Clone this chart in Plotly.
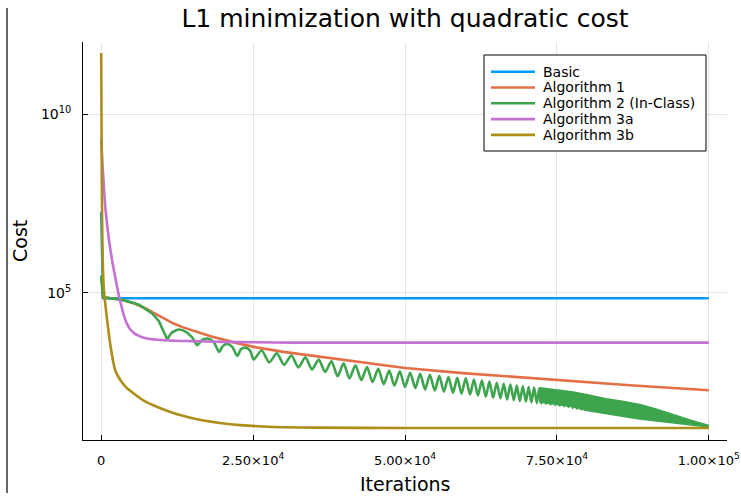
import plotly.graph_objects as go

# ---------------- data ----------------
series_names = ["Basic", "Algorithm 1", "Algorithm 2 (In-Class)", "Algorithm 3a", "Algorithm 3b"]

basic_iter = [0, 300, 100000]
basic_cost = [1.8e7, 7.0e4, 7.0e4]

alg1_iter = [0, 300, 2000, 4000, 5500, 6500, 7500, 8500, 10000, 12000, 13500, 15000, 18000,
             22000, 25500, 30000, 36000, 42000, 50000, 60000, 75000, 87000, 100000]
alg1_cost = [3.0e5, 7.4e4, 6.9e4, 6.0e4, 5.0e4, 4.2e4, 3.5e4, 2.8e4, 2.0e4, 1.35e4, 1.07e4, 8.9e3, 6.0e3,
             4.0e3, 2.95e3, 2.2e3, 1.62e3, 1.17e3, 776, 550, 355, 257, 186]

alg2_iter = [0, 300, 3500, 6220, 8420, 9500, 10300, 10880, 11600, 12800, 14000, 15000,
             15800, 16500, 17450, 18500, 19400, 20000, 20740, 21600, 22400, 23000, 23740,
             24500, 25100, 26400, 27650, 28900, 30100, 31300, 32450, 33600, 34700, 35800,
             36850, 37900, 38900, 39900, 40850, 41850, 42800, 43750, 44650, 45600, 46500,
             47400, 48250, 49150, 50000, 50850, 51700, 52500, 53300, 54100, 54900, 55650,
             56400, 57150, 57900, 58600, 59300, 60000, 60700, 61350, 62000, 62650, 63300,
             63900, 64500, 65100, 65700, 66250, 66800, 67350, 67900, 68400, 68900, 69400,
             69900, 70350, 70800, 71250, 71700, 72100, 72450, 72850, 73200, 73600, 73950,
             74350, 74700, 75100, 75450, 75850, 76200, 76550, 76900, 77250, 77600, 77950,
             78300, 78650, 79000, 79350, 79700, 80000]
alg2_cost = [3.0e5, 7.4e4, 6.3e4, 4.6e4, 2.6e4, 1.6e4, 7.9e3, 4.9e3, 7.6e3, 9.3e3, 7.9e3, 5.5e3,
             3.4e3, 4.6e3, 5.2e3, 4.2e3, 2.2e3, 3.2e3, 3.7e3, 3.0e3, 1.7e3, 2.6e3, 2.9e3,
             2.4e3, 1350, 2400, 1120, 2000, 955, 1740, 813, 1550, 708, 1350,
             603, 1200, 457, 1050, 398, 933, 355, 832, 316, 741, 275,
             661, 251, 631, 229, 575, 214, 537, 195, 501, 182, 468,
             170, 437, 158, 417, 148, 398, 141, 372, 132, 347, 123,
             324, 115, 302, 110, 282, 102, 269, 98, 251, 93, 240,
             89, 229, 85, 219, 81, 209, 79, 204, 78, 195, 74,
             191, 72, 182, 69, 178, 66, 170, 63, 162, 59, 155,
             56, 148, 54, 141, 51, 135]

# dense oscillation band of Algorithm 2 near the end (upper / lower envelope)
alg2_band_iter = [72100, 75000, 77600, 80000, 82000, 83100, 86000, 88600, 91000, 94000, 97000, 100000]
alg2_band_upper = [209, 182, 160, 135, 112, 104, 87, 71, 55, 37, 26, 18.6]
alg2_band_lower = [90, 78, 66, 52, 45, 42, 35, 30, 27, 23, 20.4, 17.8]

alg3a_iter = [0, 150, 300, 500, 700, 1000, 1300, 1800, 2230, 2670, 3050, 3500, 3900, 4320,
              4800, 5400, 6200, 7500, 9240, 12000, 14700, 20000, 25000, 31100, 100000]
alg3a_cost = [2.0e9, 6.3e8, 2.2e8, 6.3e7, 2.2e7, 7.1e6, 2.8e6, 7.9e5, 3.2e5, 1.3e5, 6.6e4, 3.2e4, 1.9e4, 1.26e4,
              9.3e3, 7.4e3, 6.2e3, 5.2e3, 4.8e3, 4.5e3, 4.4e3, 4.2e3, 4.1e3, 4.0e3, 4.0e3]

alg3b_iter = [0, 30, 60, 100, 150, 200, 300, 480, 760, 1030, 1500, 2120, 2400, 2700, 3220,
              4200, 5400, 7000, 9240, 11500, 13600, 16000, 18000, 20500, 22900, 26700,
              30000, 35000, 50000, 100000]
alg3b_cost = [5.2e11, 3.2e10, 2.0e9, 1.0e8, 1.0e7, 2.0e6, 4.0e5, 1.0e5, 3.5e4, 1.4e4, 3.5e3, 890, 600, 480, 340,
              214, 148, 95, 63, 45, 35, 28, 24.5, 21.4, 19.5, 17.8,
              17.0, 16.6, 16.2, 16.2]

x_tickvals = [0, 25000, 50000, 75000, 100000]
x_ticktext = ["0", "2.50×10<sup>4</sup>", "5.00×10<sup>4</sup>", "7.50×10<sup>4</sup>", "1.00×10<sup>5</sup>"]
y_tickvals = [1e5, 1e10]
y_ticktext = ["10<sup>5</sup>", "10<sup>10</sup>"]

# ---------------- styling ----------------
colors = ["#009AFA", "#E36F47", "#3EA44E", "#C371D2", "#AC8E18"]
LW = 2.6
FONT = "DejaVu Sans"
SPLIT = 7  # Algorithm 2: straight segments for the initial drop, smoothed waves afterwards

fig = go.Figure()
fig.add_trace(go.Scatter(x=basic_iter, y=basic_cost, mode="lines", name=series_names[0],
                         line=dict(color=colors[0], width=LW)))
fig.add_trace(go.Scatter(x=alg1_iter, y=alg1_cost, mode="lines", name=series_names[1],
                         line=dict(color=colors[1], width=LW)))
fig.add_trace(go.Scatter(x=alg2_iter[:SPLIT + 1], y=alg2_cost[:SPLIT + 1], mode="lines",
                         name=series_names[2], line=dict(color=colors[2], width=LW)))
fig.add_trace(go.Scatter(x=alg2_iter[SPLIT:], y=alg2_cost[SPLIT:], mode="lines", showlegend=False,
                         line=dict(color=colors[2], width=LW, shape="spline", smoothing=0.7),
                         hoverinfo="skip"))
fig.add_trace(go.Scatter(x=alg2_band_iter, y=alg2_band_upper, mode="lines", showlegend=False,
                         line=dict(color=colors[2], width=LW), hoverinfo="skip"))
fig.add_trace(go.Scatter(x=alg2_band_iter, y=alg2_band_lower, mode="lines", showlegend=False,
                         fill="tonexty", fillcolor=colors[2],
                         line=dict(color=colors[2], width=LW), hoverinfo="skip"))
fig.add_trace(go.Scatter(x=alg3a_iter, y=alg3a_cost, mode="lines", name=series_names[3],
                         line=dict(color=colors[3], width=LW, shape="spline", smoothing=0.6)))
fig.add_trace(go.Scatter(x=alg3b_iter, y=alg3b_cost, mode="lines", name=series_names[4],
                         line=dict(color=colors[4], width=LW, shape="spline", smoothing=0.5)))

W, H = 741, 496
L, R, T, B = 83, 14, 42, 56
pw, ph = W - L - R, H - T - B

def px_x(p):
    return (p - L) / pw

def px_y(p):
    return (H - B - p) / ph

# legend drawn as a box with line samples and text
leg_left, leg_top, leg_right, leg_bottom = 484, 55, 706, 151
row0, row_step = 71.7, 15.8
shapes = [
    dict(type="line", xref="paper", yref="paper", x0=px_x(7), x1=px_x(7),
         y0=px_y(8), y1=px_y(493), line=dict(color="#333333", width=1.5)),
    dict(type="rect", xref="paper", yref="paper", x0=px_x(leg_left), x1=px_x(leg_right),
         y0=px_y(leg_bottom), y1=px_y(leg_top), fillcolor="white",
         line=dict(color="black", width=1), layer="above"),
]
annotations = [
    dict(text="Cost", xref="paper", yref="paper", x=px_x(20), y=0.5, textangle=-90,
         showarrow=False, xanchor="center", yanchor="middle",
         font=dict(size=19, family=FONT, color="black")),
    dict(text="Iterations", xref="paper", yref="paper", x=px_x(405), y=px_y(484),
         showarrow=False, xanchor="center", yanchor="middle",
         font=dict(size=19, family=FONT, color="black")),
]
for i, (nm, col) in enumerate(zip(series_names, colors)):
    yy = row0 + i * row_step
    shapes.append(dict(type="line", xref="paper", yref="paper", x0=px_x(491), x1=px_x(535),
                       y0=px_y(yy), y1=px_y(yy), line=dict(color=col, width=LW), layer="above"))
    annotations.append(dict(text=nm, xref="paper", yref="paper", x=px_x(541), y=px_y(yy),
                            showarrow=False, xanchor="left", yanchor="middle",
                            font=dict(size=14, family=FONT, color="black")))

fig.update_layout(
    width=W, height=H,
    template="none",
    paper_bgcolor="white", plot_bgcolor="white",
    margin=dict(l=L, r=R, t=T, b=B, autoexpand=False),
    font=dict(family=FONT, color="black", size=14),
    title=dict(text="L1 minimization with quadratic cost", x=px_x(405), xref="paper",
               xanchor="center", y=1 - 18 / H, yref="container", yanchor="middle",
               font=dict(size=25, family=FONT, color="black")),
    showlegend=False,
    xaxis=dict(range=[-3000, 103000], tickvals=x_tickvals, ticktext=x_ticktext,
               ticks="inside", ticklen=5, tickcolor="black", tickwidth=1,
               showline=True, linecolor="black", linewidth=1, mirror=False,
               showgrid=True, gridcolor="rgba(0,0,0,0.1)", gridwidth=1,
               zeroline=False, automargin=False, ticklabelstandoff=8,
               tickfont=dict(size=13, family=FONT, color="black")),
    yaxis=dict(type="log", range=[0.874, 12.025], tickvals=y_tickvals, ticktext=y_ticktext,
               ticks="inside", ticklen=5, tickcolor="black", tickwidth=1,
               showline=True, linecolor="black", linewidth=1, mirror=False,
               showgrid=True, gridcolor="rgba(0,0,0,0.1)", gridwidth=1,
               zeroline=False, automargin=False, ticklabelstandoff=8,
               tickfont=dict(size=14, family=FONT, color="black")),
    shapes=shapes,
    annotations=annotations,
)

fig.write_html("out.html", config={"displayModeBar": False},
               post_script="document.body.style.margin='0px';")
